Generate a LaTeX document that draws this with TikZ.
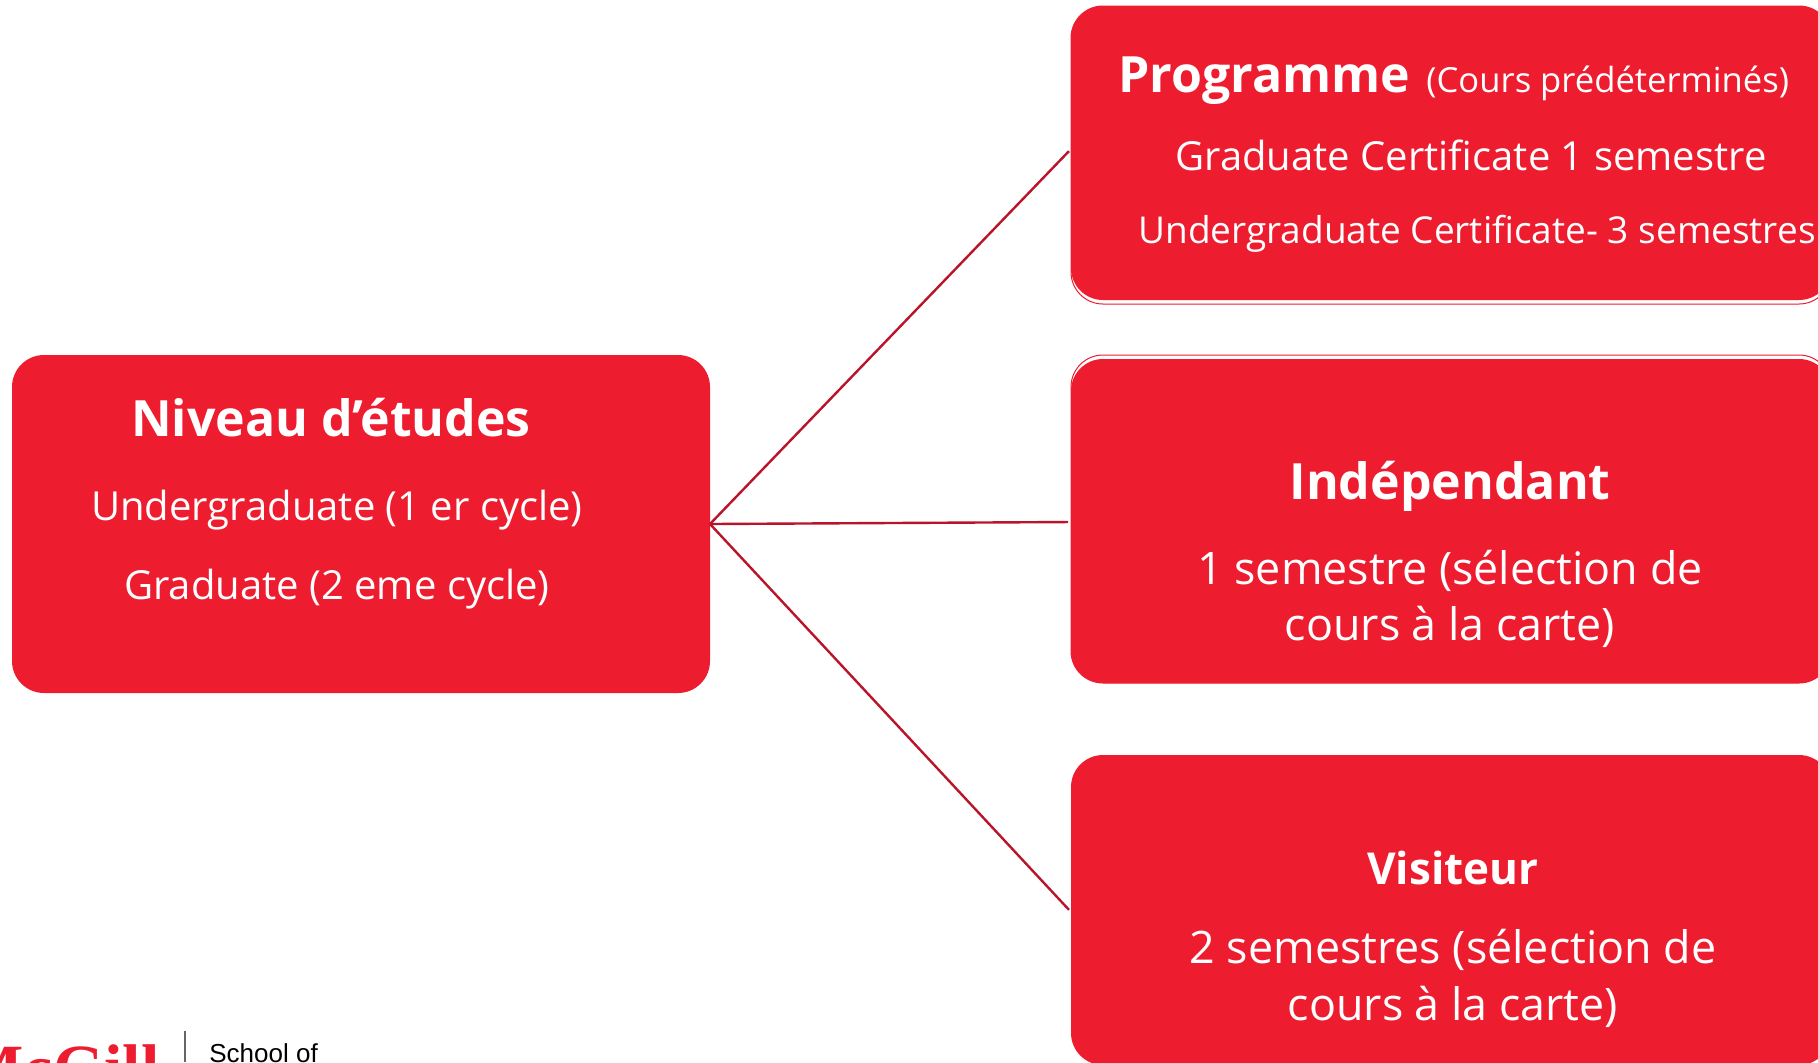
\documentclass[tikz,border=0pt]{standalone}
\usepackage{fontspec}
\setmainfont{Open Sans}
\definecolor{mcgillred}{HTML}{EE1C2F}
\definecolor{linkred}{HTML}{B9142A}
\newfontfamily\logofont{Liberation Serif}
\newfontfamily\schoolfont{Liberation Sans}
\tikzset{block/.style={fill=mcgillred, rounded corners=16pt, inner sep=0pt, outer sep=0pt},
  halo/.style={draw=mcgillred, line width=0.5pt, fill=white, rounded corners=16pt, inner sep=0pt, outer sep=0pt},
  line/.style={draw=linkred, line width=1.2pt, shorten >=1.5pt},
  head/.style={text=white, inner sep=0pt, font=\bfseries\fontsize{25}{30}\selectfont},
  smallhead/.style={text=white, inner sep=0pt, font=\bfseries\fontsize{22}{26}\selectfont},
  entry/.style={text=white, inner sep=0pt, font=\fontsize{20}{24}\selectfont},
  bigentry/.style={text=white, inner sep=0pt, font=\fontsize{22.4}{27}\selectfont}}

\begin{document}
\begin{tikzpicture}[x=0.5pt,y=-0.5pt]
    \useasboundingbox (0,0) rectangle (1818,1062);
    \clip (0,0) rectangle (1818,1062);

    % boxes
    \node[halo,minimum width=380pt,minimum height=149pt]        (hp) at (1451,155) {};
    \node[halo,minimum width=380pt,minimum height=164pt]        (hi) at (1451,519) {};
    \node[block,minimum width=349pt,minimum height=169pt]       (niveau) at (361,524) {};
    \node[block,minimum width=380pt,minimum height=147pt]       (prog) at (1451,153) {};
    \node[block,minimum width=380pt,minimum height=162pt]       (indep) at (1451,521) {};
    \node[block,minimum width=380pt,minimum height=155pt]       (visit) at (1451,910) {};

    % text
    \node[head]                 (t1) at (331,418) {Niveau d’études};
    \node[entry]                (t2) at (337,510) {Undergraduate (1 er cycle)};
    \node[entry]                (t3) at (337,589) {Graduate (2 eme cycle)};
    \node[head,anchor=base west]                (t4) at (1118,92) {Programme};
    \node[entry,anchor=base west,font=\fontsize{17.3}{20}\selectfont] (t5) at (1426,92) {(Cours prédéterminés)};
    \node[entry]                (t6) at (1471,155) {Graduate Certificate 1 semestre};
    \node[entry,font=\fontsize{18.5}{22}\selectfont]                (t7) at (1477,234) {Undergraduate Certificate- 3 semestres};
    \node[head]                 (t8) at (1450,486) {Indépendant};
    \node[bigentry]             (t9) at (1450,571) {1 semestre (sélection de};
    \node[bigentry]             (t10) at (1450,627) {cours à la carte)};
    \node[smallhead]            (t11) at (1453,868) {Visiteur};
    \node[bigentry]             (t12) at (1453,950) {2 semestres (sélection de};
    \node[bigentry]             (t13) at (1453,1007) {cours à la carte)};

    % logo
    \node[anchor=base east,inner sep=0pt,text=mcgillred,font=\logofont\bfseries\fontsize{33}{33}\selectfont] (mcgill) at (160,1090) {McGill};
    \node[anchor=base west,inner sep=0pt,font=\schoolfont\fontsize{13}{14}\selectfont] (school) at (209,1062) {School of};
    \coordinate (ltop) at (185,1031);
    \coordinate (lbot) at (185,1062);
    \draw[gray!80!black,line width=0.8pt] (ltop) -- (lbot);

    \draw[line]               (niveau.east)-- ([yshift=2pt]prog.west);
    \draw[line]               (niveau.east)-- ([yshift=-0.5pt]indep.west);
    \draw[line]               (niveau.east)-- ([yshift=-1pt]visit.west);
\end{tikzpicture}
\end{document}
